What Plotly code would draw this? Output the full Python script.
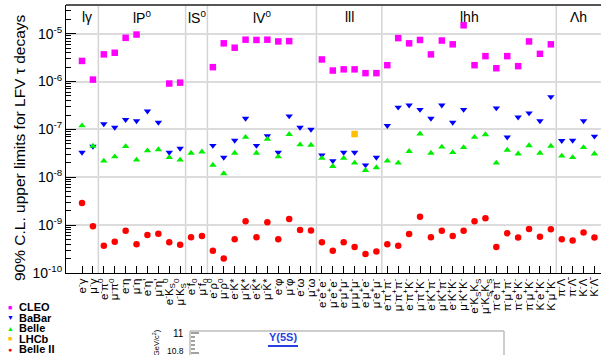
import plotly.graph_objects as go

# ---------------- data ----------------
categories = [
    "e<sup>-</sup>γ", "μ<sup>-</sup>γ",
    "e<sup>-</sup>π<sup>0</sup>", "μ<sup>-</sup>π<sup>0</sup>", "e<sup>-</sup>η", "μ<sup>-</sup>η",
    "e<sup>-</sup>η'", "μ<sup>-</sup>η'", "e<sup>-</sup>K<sub>S</sub><sup>0</sup>", "μ<sup>-</sup>K<sub>S</sub><sup>0</sup>",
    "e<sup>-</sup>f<sub>0</sub>", "μ<sup>-</sup>f<sub>0</sub>",
    "e<sup>-</sup>ρ<sup>0</sup>", "μ<sup>-</sup>ρ<sup>0</sup>", "e<sup>-</sup>K*", "μ<sup>-</sup>K*",
    "e<sup>-</sup>K̄*", "μ<sup>-</sup>K̄*", "e<sup>-</sup>φ", "μ<sup>-</sup>φ", "e<sup>-</sup>ω", "μ<sup>-</sup>ω",
    "e<sup>-</sup>e<sup>+</sup>e<sup>-</sup>", "μ<sup>-</sup>e<sup>+</sup>e<sup>-</sup>", "e<sup>-</sup>μ<sup>+</sup>μ<sup>-</sup>",
    "μ<sup>-</sup>μ<sup>+</sup>μ<sup>-</sup>", "e<sup>-</sup>μ<sup>+</sup>e<sup>-</sup>", "μ<sup>-</sup>e<sup>+</sup>μ<sup>-</sup>",
    "e<sup>-</sup>π<sup>+</sup>π<sup>-</sup>", "μ<sup>-</sup>π<sup>+</sup>π<sup>-</sup>", "e<sup>-</sup>π<sup>+</sup>K<sup>-</sup>",
    "μ<sup>-</sup>π<sup>+</sup>K<sup>-</sup>", "e<sup>-</sup>K<sup>+</sup>π<sup>-</sup>", "μ<sup>-</sup>K<sup>+</sup>π<sup>-</sup>",
    "e<sup>-</sup>K<sup>+</sup>K<sup>-</sup>", "μ<sup>-</sup>K<sup>+</sup>K<sup>-</sup>", "e<sup>-</sup>K<sub>S</sub>K<sub>S</sub>",
    "μ<sup>-</sup>K<sub>S</sub>K<sub>S</sub>", "π<sup>-</sup>e<sup>+</sup>π<sup>-</sup>", "π<sup>-</sup>μ<sup>+</sup>π<sup>-</sup>",
    "π<sup>-</sup>e<sup>+</sup>K<sup>-</sup>", "π<sup>-</sup>μ<sup>+</sup>K<sup>-</sup>", "K<sup>-</sup>e<sup>+</sup>K<sup>-</sup>",
    "K<sup>-</sup>μ<sup>+</sup>K<sup>-</sup>",
    "π<sup>-</sup>Λ", "π<sup>-</sup>Λ̄", "K<sup>-</sup>Λ", "K<sup>-</sup>Λ̄",
]

cleo = [2.7e-6, 1.1e-6,
        3.7e-6, 4.0e-6, 8.2e-6, 9.6e-6, None, None, 9.1e-7, 9.5e-7,
        None, None,
        2.0e-6, 6.3e-6, 5.1e-6, 7.5e-6, 7.4e-6, 7.5e-6, 6.9e-6, 7.0e-6, None, None,
        2.9e-6, 1.7e-6, 1.8e-6, 1.8e-6, 1.5e-6, 1.5e-6,
        2.2e-6, 8.1e-6, 6.3e-6, 7.4e-6, 3.7e-6, 7.2e-6, 6.0e-6, 1.5e-5,
        2.2e-6, 3.4e-6, 1.9e-6, 3.4e-6, 2.1e-6, 6.9e-6, 3.8e-6, 6.0e-6,
        None, None, None, None]

babar = [3.3e-8, 4.4e-8,
         1.3e-7, 1.1e-7, 1.6e-7, 1.5e-7, 2.4e-7, 1.4e-7, 3.3e-8, 4.0e-8,
         None, None,
         4.6e-8, 2.6e-8, 5.9e-8, 1.7e-7, 4.6e-8, 7.3e-8, 3.3e-8, 1.9e-7, 1.1e-7, 1.0e-7,
         2.9e-8, 2.2e-8, 3.3e-8, 3.3e-8, 1.8e-8, 2.6e-8,
         1.2e-7, 2.9e-7, 3.2e-7, 2.6e-7, 1.7e-7, 3.2e-7, 1.4e-7, 2.6e-7,
         None, None, 2.8e-7, 6.9e-8, 1.8e-7, 2.2e-7, 1.5e-7, 4.8e-7,
         5.8e-8, 5.9e-8, 1.5e-7, 7.2e-8]

belle = [1.2e-7, 4.5e-8,
         2.2e-8, 2.7e-8, 4.4e-8, 2.3e-8, 3.6e-8, 3.8e-8, 2.6e-8, 2.3e-8,
         3.2e-8, 3.4e-8,
         1.8e-8, 1.2e-8, 3.2e-8, 6.9e-8, 3.2e-8, 6.3e-8, 2.7e-8, 7.9e-8, 4.8e-8, 4.7e-8,
         2.5e-8, 1.7e-8, 2.5e-8, 2.0e-8, 1.4e-8, 1.6e-8,
         2.2e-8, 2.0e-8, 3.5e-8, 8.1e-8, 3.2e-8, 4.3e-8, 3.3e-8, 4.2e-8,
         6.9e-8, 7.8e-8, 2.0e-8, 3.7e-8, 3.1e-8, 4.6e-8, 3.2e-8, 4.5e-8,
         2.8e-8, 2.6e-8, 4.2e-8, 3.1e-8]

lhcb = [None] * 25 + [8.0e-8] + [None] * 22

belle2 = [2.9e-9, 9.5e-10,
          3.7e-10, 4.5e-10, 7.6e-10, 4.0e-10, 6.2e-10, 6.6e-10, 4.4e-10, 3.9e-10,
          5.6e-10, 5.9e-10,
          2.9e-10, 2.0e-10, 5.1e-10, 1.2e-9, 5.6e-10, 1.15e-9, 5.1e-10, 1.35e-9, 7.9e-10, 7.7e-10,
          4.4e-10, 2.9e-10, 4.4e-10, 3.5e-10, 2.5e-10, 2.8e-10,
          4.0e-10, 3.7e-10, 6.5e-10, 1.5e-9, 5.6e-10, 7.6e-10, 5.9e-10, 7.6e-10,
          1.2e-9, 1.4e-9, 3.5e-10, 6.8e-10, 5.5e-10, 8.3e-10, 5.7e-10, 8.2e-10,
          5.1e-10, 4.8e-10, 7.0e-10, 5.5e-10]

group_labels = ["lγ", "lP<sup>0</sup>", "lS<sup>0</sup>", "lV<sup>0</sup>", "lll", "lhh", "Λh"]
group_first = [0, 2, 10, 12, 22, 28, 44]
group_last = [1, 9, 11, 21, 27, 43, 47]

ytick_vals = [1e-10, 1e-9, 1e-8, 1e-7, 1e-6, 1e-5]
ytick_text = ["10<sup>-10</sup>", "10<sup>-9</sup>", "10<sup>-8</sup>",
              "10<sup>-7</sup>", "10<sup>-6</sup>", "10<sup>-5</sup>"]

legend_names = ["CLEO", "BaBar", "Belle", "LHCb", "Belle II"]
legend_syms = ["■", "▼", "▲", "■", "●"]
colors = ["#ff00ff", "#0000ff", "#00ee00", "#ffbf00", "#ff0000"]
symbols = ["square", "triangle-down", "triangle-up", "square", "circle"]
series = [cleo, babar, belle, lhcb, belle2]

FONT = "Liberation Sans, Arial, Helvetica, sans-serif"

# ---------------- layout helpers (pixel -> paper) ----------------
L, R, T, B = 66, 601, 5, 273
W, H = R - L, B - T


def px(x):
    return (x - L) / W


def py(y):
    return (B - y) / H


fig = go.Figure()
for name, vals, col, sym in zip(legend_names, series, colors, symbols):
    fig.add_trace(go.Scatter(
        x=categories, y=vals, mode="markers", name=name,
        marker=dict(symbol=sym, color=col, size=6.5, line=dict(width=0)),
        showlegend=False))

minor_vals = [m * 10.0 ** e for e in range(-10, -4) for m in range(2, 10)]

fig.update_layout(
    width=610, height=355,
    margin=dict(l=L, r=610 - R, t=T, b=355 - B),
    paper_bgcolor="white", plot_bgcolor="white",
    font=dict(family=FONT, color="black"),
    xaxis=dict(
        type="category", categoryorder="array", categoryarray=categories,
        range=[-1.47, 47.6], tickmode="linear", tick0=0, dtick=1,
        tickangle=-90, ticks="inside", ticklen=7,
        tickcolor="black", showline=True, linecolor="black", linewidth=1,
        showgrid=False, zeroline=False, tickfont=dict(size=11.5, color="black"),
    ),
    yaxis=dict(
        type="log", range=[-10, -4.4], tickmode="array",
        tickvals=ytick_vals, ticktext=ytick_text,
        ticks="inside", ticklen=10, tickcolor="black",
        showline=True, linecolor="black", linewidth=1,
        showgrid=True, gridcolor="#dcdcdc", gridwidth=1.5, zeroline=False,
        tickfont=dict(size=14, color="black"),
        minor=dict(tickmode="array", tickvals=minor_vals, ticks="inside",
                   ticklen=5, tickcolor="black", showgrid=False),
    ),
    yaxis2=dict(
        type="log", range=[-10, -4.4], overlaying="y", side="right", anchor="x",
        tickmode="array", tickvals=ytick_vals, showticklabels=False,
        ticks="outside", ticklen=9, tickcolor="#333",
        showline=True, linecolor="#555", linewidth=1, showgrid=False, zeroline=False,
        minor=dict(tickmode="array", tickvals=minor_vals, ticks="outside",
                   ticklen=5, tickcolor="#333", showgrid=False),
    ),
)

shapes = []
# group dividers
for last in group_last[:-1]:
    shapes.append(dict(type="line", xref="x", yref="paper", x0=last + 0.5, x1=last + 0.5,
                       y0=0, y1=1, line=dict(color="#d4d4d4", width=1.5), layer="below"))
# top frame
shapes.append(dict(type="line", xref="paper", yref="paper", x0=0, x1=1, y0=1, y1=1,
                   line=dict(color="#555555", width=2)))

# fragment of the panel below (cropped)
box_col = "#bdbdbd"
shapes.append(dict(type="line", xref="paper", yref="paper", x0=px(190), x1=px(504),
                   y0=py(331), y1=py(331), line=dict(color=box_col, width=1.5)))
shapes.append(dict(type="line", xref="paper", yref="paper", x0=px(190), x1=px(190),
                   y0=py(331), y1=py(360), line=dict(color=box_col, width=1.5)))
shapes.append(dict(type="line", xref="paper", yref="paper", x0=px(504), x1=px(504),
                   y0=py(331), y1=py(360), line=dict(color=box_col, width=1.5)))
for yy, ln in [(333, 8), (337, 4), (341, 4), (345, 4), (349, 4), (353, 8)]:
    shapes.append(dict(type="line", xref="paper", yref="paper", x0=px(191), x1=px(191 + ln),
                       y0=py(yy), y1=py(yy), line=dict(color="#444", width=1)))
shapes.append(dict(type="line", xref="paper", yref="paper", x0=px(268), x1=px(298),
                   y0=py(346), y1=py(346), line=dict(color="#2a3fe0", width=2)))
fig.update_layout(shapes=shapes)

ann = []
# group labels
for lab, a, b in zip(group_labels, group_first, group_last):
    ann.append(dict(x=(a + b) / 2, y=py(17), xref="x", yref="paper", text=lab,
                    showarrow=False, font=dict(size=14, color="black"),
                    xanchor="center", yanchor="middle"))
# y-axis title
ann.append(dict(x=px(20), y=py(148), xref="paper", yref="paper",
                text="90% C.L. upper limits for LFV τ decays", textangle=-90,
                showarrow=False, font=dict(size=15.5, color="black"),
                xanchor="center", yanchor="middle"))
# legend
for i, (nm, sy, col) in enumerate(zip(legend_names, legend_syms, colors)):
    yy = 307 + 10.5 * i
    ann.append(dict(x=px(10), y=py(yy), xref="paper", yref="paper", text=sy,
                    showarrow=False, font=dict(size=7, color=col),
                    xanchor="center", yanchor="middle"))
    ann.append(dict(x=px(18), y=py(yy), xref="paper", yref="paper", text="<b>" + nm + "</b>",
                    showarrow=False, font=dict(size=11, color="black"),
                    xanchor="left", yanchor="middle", borderpad=0))
# fragment texts
ann.append(dict(x=px(186), y=py(333), xref="paper", yref="paper", text="11",
                showarrow=False, font=dict(size=10, color="black"),
                xanchor="right", yanchor="middle"))
ann.append(dict(x=px(186), y=py(351), xref="paper", yref="paper", text="10.8",
                showarrow=False, font=dict(size=8.5, color="black"),
                xanchor="right", yanchor="middle"))
ann.append(dict(x=px(155), y=py(328), xref="paper", yref="paper", text="(GeV/c<sup>2</sup>)",
                textangle=-90, showarrow=False, font=dict(size=7.5, color="black"),
                xanchor="center", yanchor="top"))
ann.append(dict(x=px(283), y=py(337), xref="paper", yref="paper", text="<b>Υ(5S)</b>",
                showarrow=False, font=dict(size=11, color="#2a3fe0"),
                xanchor="center", yanchor="middle"))
fig.update_layout(annotations=ann)

fig.write_html("out.html")
